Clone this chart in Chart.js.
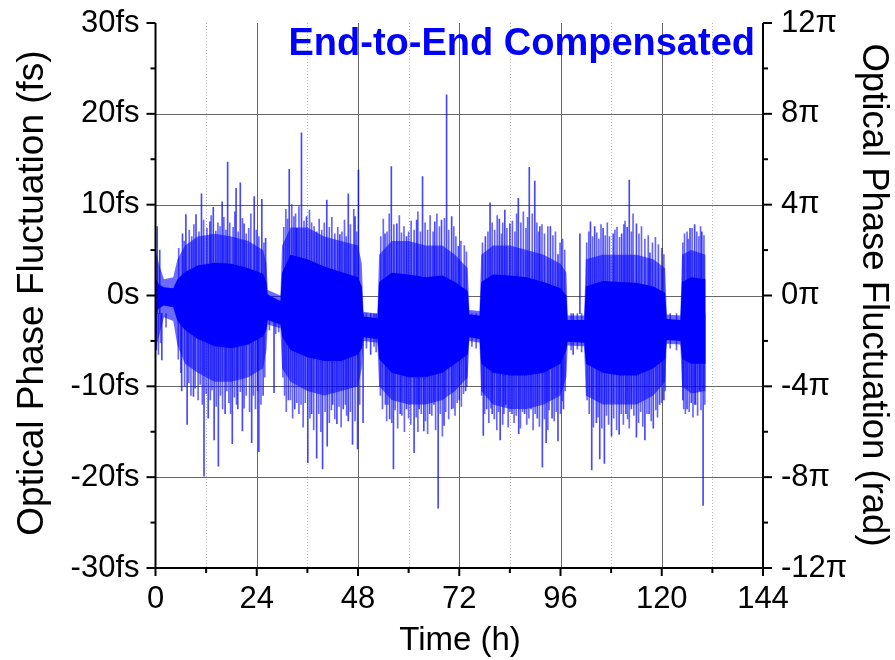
<!DOCTYPE html>
<html>
<head>
<meta charset="utf-8">
<script src="https://cdn.jsdelivr.net/npm/chart.js@4/dist/chart.umd.min.js"></script>
<style>
  html, body { margin: 0; padding: 0; background: #ffffff; }
  #wrap { width: 895px; height: 660px; position: relative; }
</style>
</head>
<body>
<div id="wrap"><canvas id="c" width="895" height="660"></canvas></div>
<script>
// ---- data ----
// envelope knots (time in h) of the phase fluctuation band (fs)
const envT     = [0.0, 0.8, 2.0, 4.2, 5.2, 7.0, 10.0, 14.0, 18.0, 22.0, 25.5, 26.3, 26.6, 29.6, 30.0, 32.0, 36.0, 40.0, 44.0, 48.0, 48.9, 49.3, 52.6, 53.0, 56.0, 60.0, 64.0, 68.0, 71.0, 74.0, 74.4, 76.8, 77.2, 80.0, 84.0, 88.0, 92.0, 96.0, 97.4, 97.7, 101.6, 102.0, 106.0, 110.0, 114.0, 118.0, 120.8, 121.2, 124.4, 124.8, 127.0, 130.4];
const coreHi   = [2.0, 1.2, 0.9, 0.8, 1.8, 2.6, 3.3, 3.6, 3.5, 3.0, 2.4, 1.5, 0.1, -0.6, 2.5, 4.5, 4.0, 3.2, 2.6, 2.0, 1.0, -2.3, -2.5, 1.5, 2.5, 2.3, 2.0, 2.2, 1.5, 0.5, -2.1, -2.2, 1.5, 2.3, 2.2, 2.0, 1.5, 0.8, 0.0, -2.7, -2.7, 1.0, 1.6, 1.5, 1.4, 1.0, 0.3, -2.6, -2.7, 1.5, 2.0, 1.8];
const coreLo   = [-2.0, -1.4, -1.1, -1.3, -2.8, -3.8, -4.8, -5.6, -5.8, -5.4, -4.5, -3.8, -2.7, -3.2, -4.5, -6.0, -6.8, -7.2, -7.2, -6.5, -5.8, -4.6, -4.8, -7.0, -8.5, -9.0, -9.0, -8.5, -7.5, -6.5, -4.6, -4.8, -7.5, -8.5, -8.8, -8.8, -8.5, -7.5, -6.0, -5.1, -5.2, -7.5, -8.5, -8.8, -8.8, -8.0, -7.0, -4.9, -5.0, -7.0, -7.5, -7.5];
const fringeHi = [5.0, 3.5, 1.8, 2.0, 4.0, 5.5, 6.5, 6.8, 6.5, 6.0, 5.0, 3.5, 0.6, 0.0, 5.5, 7.5, 7.5, 6.5, 6.0, 5.5, 3.5, -1.8, -2.0, 4.5, 6.0, 6.0, 5.5, 5.5, 4.5, 3.0, -1.6, -1.7, 4.5, 5.5, 5.5, 5.0, 4.5, 3.5, 2.5, -2.2, -2.2, 4.0, 4.5, 4.5, 4.5, 4.0, 3.0, -2.1, -2.2, 4.5, 5.0, 4.5];
const fringeLo = [-6.0, -4.5, -2.4, -2.8, -5.5, -7.5, -8.5, -9.5, -9.5, -9.0, -8.0, -6.0, -3.2, -3.6, -8.0, -9.5, -10.5, -11.0, -10.5, -10.0, -8.0, -5.0, -5.2, -10.0, -11.5, -12.0, -12.0, -11.5, -10.5, -9.0, -5.0, -5.2, -10.5, -12.0, -12.5, -12.5, -12.0, -11.0, -9.0, -5.5, -5.6, -11.0, -12.0, -12.0, -12.0, -11.0, -9.5, -5.3, -5.4, -10.0, -10.8, -10.5];

// prominent spikes: time (h) and tip value (fs)
const spikeT = [0.4, 1.0, 6.4, 7.2, 9.6, 10.9, 12.9, 13.7, 15.8, 17.1, 19.1, 20.1, 21.0, 23.4, 25.2, 26.1, 31.7, 33.5, 34.6, 35.8, 38.2, 40.6, 43.7, 45.7, 47.3, 48.1, 54.4, 55.9, 57.2, 59.5, 61.9, 63.3, 66.2, 67.8, 69.0, 70.2, 71.8, 78.2, 79.3, 81.5, 82.8, 84.0, 86.0, 88.6, 89.9, 91.1, 93.6, 95.4, 100.6, 103.1, 104.1, 106.1, 108.5, 110.5, 111.8, 112.3, 114.0, 117.2, 126.7, 127.8, 129.5,
                1.5, 0.2, 6.2, 7.5, 9.0, 11.5, 12.5, 13.9, 14.9, 16.5, 18.2, 19.5, 20.6, 22.8, 24.5, 25.5, 28.1, 31.5, 33.0, 36.1, 37.0, 38.2, 39.6, 40.7, 42.0, 43.0, 44.5, 45.7, 46.7, 47.9, 49.2, 51.0, 54.5, 55.5, 56.4, 58.0, 59.5, 61.3, 62.5, 63.6, 65.0, 66.0, 67.0, 68.4, 70.2, 72.0, 73.5, 77.7, 78.5, 79.8, 81.7, 83.0, 84.5, 86.1, 87.5, 89.0, 90.5, 91.7, 92.6, 94.0, 95.4, 96.7, 99.0, 103.4, 104.5, 105.3, 106.4, 108.1, 109.9, 111.5, 112.8, 114.0, 116.0, 117.0, 118.0, 119.5, 120.5, 125.0, 126.0, 127.0, 128.0, 129.0, 129.8];
const spikeV = [7.6, 5.0, 6.8, 8.9, 8.9, 11.2, 8.1, 9.7, 10.3, 14.7, 11.8, 12.4, 7.9, 10.9, 10.6, 6.3, 13.9, 7.4, 17.9, 8.7, 7.0, 10.5, 6.7, 11.2, 8.7, 13.8, 6.8, 14.2, 7.9, 6.5, 8.3, 13.1, 8.1, 8.3, 22.1, 8.7, 5.4, 6.5, 10.2, 8.4, 9.4, 7.9, 10.7, 14.1, 12.6, 7.6, 7.6, 4.5, 6.8, 8.1, 7.6, 7.4, 6.8, 6.8, 7.5, 12.7, 7.9, 4.7, 7.4, 7.8, 7.0,
                -7.1, -6.0, -10.5, -14.2, -11.1, -19.9, -13.5, -15.9, -18.8, -13.0, -16.3, -12.5, -14.9, -16.2, -17.2, -11.0, -10.7, -11.5, -12.5, -18.4, -13.0, -17.9, -19.1, -16.6, -12.0, -14.1, -12.5, -13.8, -16.4, -16.9, -14.0, -6.5, -12.0, -13.6, -19.1, -13.0, -12.5, -17.3, -12.5, -14.9, -13.0, -12.0, -23.4, -14.3, -12.5, -11.5, -10.5, -15.4, -12.5, -13.0, -15.9, -12.0, -13.0, -15.2, -13.0, -12.5, -13.5, -18.9, -16.2, -13.5, -16.0, -12.5, -6.5, -19.2, -14.0, -18.0, -18.5, -15.5, -15.3, -13.0, -12.5, -15.6, -15.9, -13.0, -14.6, -12.0, -11.5, -11.5, -12.5, -11.8, -12.0, -10.5, -23.1];

// smaller hair-like excursions beyond the dense band: time (h) and tip value (fs)
const hairT = [5.5, 6.8, 8.0, 8.6, 9.1, 10.3, 11.4, 12.2, 13.2, 14.3, 14.8, 15.3, 16.2, 16.7, 17.6, 18.4, 18.8, 19.6, 20.6, 21.5, 22.1, 22.6, 23.9, 24.5, 25.7,
               30.4, 30.9, 31.3, 32.3, 32.8, 33.2, 34.0, 35.2, 36.5, 37.0, 37.6, 38.8, 39.4, 40.0, 41.2, 41.8, 42.5, 43.2, 44.2, 44.8, 45.2, 46.2, 47.0, 47.7,
               53.4, 54.0, 54.9, 55.4, 56.5, 57.8, 58.3, 58.9, 60.0, 60.6, 61.3, 62.2, 62.8, 63.9, 64.5, 65.1, 65.8, 66.7, 67.3, 68.5, 69.5, 70.7, 71.2, 72.4, 73.2, 73.7,
               77.5, 78.8, 79.8, 80.4, 81.0, 82.0, 82.3, 83.3, 84.6, 85.2, 85.6, 86.6, 87.2, 87.8, 88.2, 89.3, 90.4, 90.8, 91.6, 92.2, 93.0, 94.2, 94.8, 95.9, 96.5, 97.0,
               102.2, 102.7, 103.6, 104.6, 105.1, 105.6, 106.6, 107.1, 107.6, 108.9, 109.4, 110.0, 111.0, 111.3, 112.8, 113.2, 114.6, 115.2, 116.0, 116.8, 117.8, 118.5, 119.2, 120.0, 120.5,
               125.0, 125.4, 126.0, 126.3, 127.2, 128.3, 128.8, 129.2, 130.0,
               0.1, 0.7, 1.2, 2.5,
               5.4, 6.0, 6.9, 7.9, 8.4, 9.4, 10.1, 10.6, 11.1, 12.0, 13.0, 13.4, 14.4, 15.4, 15.9, 16.9, 17.4, 17.8, 18.7, 19.2, 20.1, 21.0, 21.5, 22.3, 23.2, 23.7, 24.2, 25.0, 25.9,
               27.0, 28.5, 29.2,
               30.2, 30.6, 31.0, 32.0, 32.5, 33.5, 34.0, 34.5, 35.0, 35.5, 36.6, 37.5, 38.7, 39.2, 40.2, 41.2, 41.7, 42.5, 43.5, 44.0, 45.0, 45.3, 46.2, 47.3, 48.4,
               50.0, 51.8, 52.3,
               53.3, 53.8, 54.8, 55.1, 56.0, 56.8, 57.4, 58.4, 59.0, 60.0, 60.5, 61.8, 62.2, 63.0, 64.0, 64.5, 65.5, 66.4, 67.5, 68.0, 68.8, 69.5, 70.6, 71.0, 71.5, 72.5, 73.0, 73.8,
               75.0, 76.0,
               77.3, 78.0, 79.0, 79.5, 80.3, 80.9, 81.3, 82.3, 82.6, 83.6, 84.0, 85.0, 85.5, 86.5, 87.0, 88.0, 88.5, 89.5, 90.0, 91.0, 92.2, 93.0, 93.3, 94.5, 95.0, 96.0, 96.4, 97.1,
               98.5, 100.0, 101.0,
               102.3, 102.8, 103.8, 104.9, 105.8, 106.9, 107.4, 108.6, 109.3, 110.4, 110.9, 111.9, 112.3, 113.4, 114.5, 115.0, 115.5, 116.5, 117.5, 118.6, 119.0, 120.0, 120.8,
               122.0, 123.5,
               125.2, 125.6, 126.5, 127.4, 127.8, 128.5, 129.3, 130.2];
const hairV = [5.2, 6.0, 7.2, 6.5, 7.8, 7.0, 8.3, 7.4, 8.8, 7.1, 8.0, 7.6, 8.6, 7.2, 8.0, 7.5, 9.2, 7.0, 8.5, 6.8, 7.4, 9.0, 7.2, 6.5, 5.8,
               7.5, 9.5, 8.4, 10.0, 8.7, 9.0, 9.8, 8.2, 9.4, 8.0, 7.6, 8.4, 7.2, 8.0, 7.5, 8.6, 6.8, 7.5, 7.0, 8.3, 6.5, 7.8, 9.5, 7.0,
               6.5, 8.4, 7.0, 9.0, 7.8, 8.8, 6.9, 7.6, 7.0, 8.2, 7.2, 9.2, 7.0, 8.0, 7.2, 8.8, 7.0, 9.0, 7.6, 8.5, 7.2, 7.6, 6.5, 6.0, 5.5, 4.8,
               5.8, 7.0, 8.0, 7.2, 8.8, 6.8, 8.0, 7.4, 8.2, 7.0, 9.0, 8.0, 9.2, 7.4, 8.6, 9.0, 8.0, 7.0, 7.8, 6.8, 7.6, 6.6, 7.0, 5.8, 6.2, 5.0,
               5.8, 7.0, 6.5, 6.9, 6.2, 7.8, 6.6, 8.0, 6.5, 7.2, 7.5, 6.4, 7.8, 8.2, 7.0, 9.0, 6.8, 7.6, 6.2, 6.6, 5.8, 6.4, 5.6, 5.2, 4.5,
               5.8, 6.8, 7.0, 6.2, 7.4, 7.0, 6.5, 7.6, 6.6,
               -5.0, -6.5, -5.2, -3.5,
               -7.0, -8.5, -10.0, -9.6, -11.0, -10.2, -11.5, -9.8, -12.0, -10.8, -11.5, -10.4, -12.2, -11.0, -12.5, -10.5, -11.8, -13.0, -11.2, -12.0, -10.6, -12.4, -11.0, -12.8, -11.0, -12.5, -10.5, -12.0, -9.0,
               -3.8, -4.2, -4.0,
               -9.0, -11.0, -12.8, -11.5, -13.5, -11.8, -13.0, -12.0, -14.5, -11.8, -13.5, -14.8, -13.0, -15.0, -12.8, -14.0, -12.6, -13.6, -12.2, -14.5, -12.0, -13.2, -12.8, -13.8, -12.0,
               -5.8, -5.6, -6.2,
               -11.0, -12.5, -13.8, -12.0, -14.0, -12.6, -14.6, -13.2, -15.0, -13.5, -14.2, -13.4, -15.0, -13.0, -13.8, -15.2, -13.2, -14.8, -13.0, -15.5, -12.8, -13.6, -12.4, -13.2, -11.8, -12.2, -10.8, -10.0,
               -5.6, -5.8,
               -11.0, -13.0, -14.0, -12.4, -13.6, -14.8, -12.8, -14.2, -13.0, -14.5, -12.8, -14.0, -13.2, -14.6, -12.8, -14.2, -13.5, -14.8, -13.0, -14.4, -13.6, -14.8, -12.6, -13.8, -12.8, -13.0, -11.6, -10.5,
               -6.0, -5.9, -6.2,
               -11.5, -13.0, -14.5, -13.4, -14.6, -13.2, -14.2, -13.5, -14.8, -13.0, -14.2, -13.6, -14.6, -13.2, -14.0, -12.8, -14.4, -13.0, -13.8, -12.6, -13.4, -11.8, -10.5,
               -5.8, -6.0,
               -12.5, -13.0, -12.8, -13.4, -12.0, -13.2, -12.6, -12.0];

// axis ticks
const xTicks  = [0, 24, 48, 72, 96, 120, 144];
const xMinor  = [12, 36, 60, 84, 108, 132];
const yTicks  = [-30, -20, -10, 0, 10, 20, 30];
const yMinor  = [-25, -15, -5, 5, 15, 25];
const y2Ticks = [-12, -8, -4, 0, 4, 8, 12];
const y2Minor = [-10, -6, -2, 2, 6, 10];

const FONT = "'Liberation Sans', Arial, sans-serif";
const BLUE = '#0000ff';

const pts = (ys) => envT.map((t, i) => ({ x: t, y: ys[i] }));
const spikeBase = -2;

const framePlugin = {
  id: 'frame',
  beforeDatasetsDraw(chart) {
    const { ctx, chartArea: a, scales: { x, y } } = chart;
    ctx.save();
    ctx.lineWidth = 1;
    ctx.strokeStyle = '#b8b8b8';
    ctx.setLineDash([1, 2]);
    xMinor.forEach(v => {
      const px = Math.round(x.getPixelForValue(v)) + 0.5;
      ctx.beginPath(); ctx.moveTo(px, a.top); ctx.lineTo(px, a.bottom); ctx.stroke();
    });
    ctx.setLineDash([]);
    ctx.strokeStyle = '#666666';
    xTicks.forEach(v => {
      if (v === 0 || v === 144) return;
      const px = Math.round(x.getPixelForValue(v)) + 0.5;
      ctx.beginPath(); ctx.moveTo(px, a.top); ctx.lineTo(px, a.bottom); ctx.stroke();
    });
    yTicks.forEach(v => {
      if (v === 30 || v === -30) return;
      const py = Math.round(y.getPixelForValue(v)) + 0.5;
      ctx.beginPath(); ctx.moveTo(a.left, py); ctx.lineTo(a.right, py); ctx.stroke();
    });
    ctx.restore();
  },
  afterDatasetsDraw(chart) {
    const { ctx, chartArea: a, scales: { x, y, y2 } } = chart;
    ctx.save();
    ctx.strokeStyle = '#000';
    ctx.lineWidth = 2;
    ctx.beginPath();
    ctx.moveTo(a.left, a.top); ctx.lineTo(a.left, a.bottom); ctx.lineTo(a.right, a.bottom); ctx.lineTo(a.right, a.top);
    ctx.stroke();
    const seg = (x1, y1, x2, y2p) => { ctx.beginPath(); ctx.moveTo(x1, y1); ctx.lineTo(x2, y2p); ctx.stroke(); };
    yTicks.forEach(v => { const p = y.getPixelForValue(v); seg(a.left - 9, p, a.left, p); });
    yMinor.forEach(v => { const p = y.getPixelForValue(v); seg(a.left - 5, p, a.left, p); });
    y2Ticks.forEach(v => { const p = y2.getPixelForValue(v); seg(a.right, p, a.right + 9, p); });
    y2Minor.forEach(v => { const p = y2.getPixelForValue(v); seg(a.right, p, a.right + 5, p); });
    xTicks.forEach(v => { const p = x.getPixelForValue(v); seg(p, a.bottom, p, a.bottom + 8); });
    xMinor.forEach(v => { const p = x.getPixelForValue(v); seg(p, a.bottom, p, a.bottom + 5); });

    // titles
    ctx.fillStyle = '#000';
    ctx.textAlign = 'center';
    ctx.textBaseline = 'alphabetic';
    ctx.font = `37px ${FONT}`;
    ctx.save();
    ctx.translate(43, 293);
    ctx.rotate(-Math.PI / 2);
    ctx.fillText('Optical Phase Fluctuation (fs)', 0, 0);
    ctx.restore();
    ctx.font = `36.5px ${FONT}`;
    ctx.save();
    ctx.translate(863, 295);
    ctx.rotate(Math.PI / 2);
    ctx.fillText('Optical Phase Fluctuation (rad)', 0, 0);
    ctx.restore();
    ctx.font = `33px ${FONT}`;
    ctx.fillText('Time (h)', 460, 650);
    ctx.fillStyle = BLUE;
    ctx.font = `bold 38px ${FONT}`;
    ctx.textAlign = 'right';
    ctx.fillText('End-to-End Compensated', 755, 55);
    ctx.restore();
  }
};

new Chart(document.getElementById('c'), {
  type: 'line',
  data: {
    datasets: [
      { data: pts(fringeHi), borderWidth: 0, pointRadius: 0, fill: false, order: 3, tension: 0 },
      { data: pts(fringeLo), borderWidth: 0, pointRadius: 0, fill: '-1', backgroundColor: 'rgba(0,0,255,0.58)', order: 3, tension: 0 },
      { type: 'bar', data: hairT.map((t, i) => ({ x: t, y: [spikeBase, hairV[i]] })), backgroundColor: 'rgba(0,0,255,0.6)', borderWidth: 0, barThickness: 1, order: 2, grouped: false },
      { type: 'bar', data: spikeT.map((t, i) => ({ x: t, y: [spikeBase, spikeV[i]] })), backgroundColor: 'rgba(0,0,255,0.72)', borderWidth: 0, barThickness: 1, order: 1, grouped: false },
      { data: pts(coreHi), borderWidth: 0, pointRadius: 0, fill: false, order: 0, tension: 0 },
      { data: pts(coreLo), borderWidth: 0, pointRadius: 0, fill: '-1', backgroundColor: BLUE, order: 0, tension: 0 }
    ]
  },
  options: {
    responsive: false,
    animation: false,
    events: [],
    layout: { padding: { top: 23, left: 0, right: 0, bottom: 0 } },
    plugins: { legend: { display: false }, tooltip: { enabled: false }, title: { display: false } },
    scales: {
      x: {
        type: 'linear', min: 0, max: 144, offset: false,
        grid: { display: false, drawTicks: true, tickLength: 13 },
        border: { display: false },
        ticks: { stepSize: 24, padding: 0, color: '#000', font: { family: FONT, size: 31 }, maxRotation: 0 },
        afterFit(s) { s.height = 92; }
      },
      y: {
        type: 'linear', position: 'left', min: -30, max: 30,
        grid: { display: false, drawTicks: true, tickLength: 16 },
        border: { display: false },
        ticks: { stepSize: 10, padding: 0, color: '#000', font: { family: FONT, size: 31 },
          callback: v => (v === 0 ? '0s' : v + 'fs') },
        afterFit(s) { s.width = 155.5; }
      },
      y2: {
        type: 'linear', position: 'right', min: -12, max: 12,
        grid: { display: false, drawTicks: true, tickLength: 18 },
        border: { display: false },
        ticks: { stepSize: 4, padding: 0, color: '#000', font: { family: FONT, size: 31 },
          callback: v => v + 'π' },
        afterFit(s) { s.width = 132; }
      }
    }
  },
  plugins: [framePlugin]
});
</script>
</body>
</html>
